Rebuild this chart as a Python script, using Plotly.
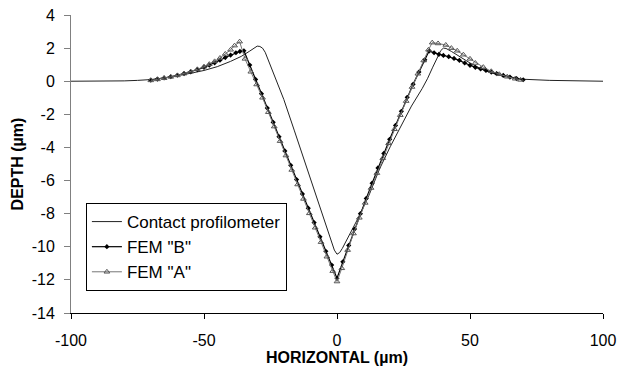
import plotly.graph_objects as go

# Contact profilometer
contact_x = [-100, -90, -80, -75, -70, -65, -60, -55, -50, -45, -40, -36, -33, -31, -30, -29, -28, -27, -26, -25, -24,
             -22, -20, -16, -12, -8, -5, -3, -2, -1, 0, 1, 2, 4, 6, 8, 12, 16, 20, 24, 28, 32, 34, 36, 38, 39, 40, 41,
             43, 46, 50, 55, 60, 65, 70, 80, 90, 100]
contact_y = [0.0, 0.0, 0.02, 0.05, 0.1, 0.2, 0.33, 0.48, 0.65, 0.88, 1.2, 1.5, 1.8, 2.02, 2.12, 2.1, 2.0, 1.75, 1.35, 0.95, 0.55,
             -0.25, -1.1, -3.0, -4.95, -6.9, -8.35, -9.3, -9.75, -10.2, -10.45, -10.35, -10.1, -9.5, -8.9, -8.25, -6.9, -5.3, -3.96, -2.7, -1.5, -0.45, 0.15, 0.85, 1.55, 1.85, 2.0, 1.98,
             1.8, 1.5, 1.1, 0.68, 0.4, 0.22, 0.12, 0.05, 0.02, 0.0]

# FEM "B"
fem_b_x = [-70, -67.5, -65, -62.5, -60, -57.5, -55, -52.5, -50, -48, -46, -44, -42, -40, -38, -36.5, -35,
           -32.8, -30.6, -28.4, -26.2, -24, -21.8, -19.6, -17.4, -15.2, -13, -10.8, -8.6, -6.4, -4.2, -2, 0,
           2.2, 4.4, 6.6, 8.8, 11, 13.2, 15.4, 17.6, 19.8, 22, 24.2, 26.4, 28.6, 30.8, 33, 34.6,
           36.5, 38.3, 40, 42, 44, 46, 48, 50, 52, 54, 56, 58, 60, 62.5, 65, 67.5, 70]
fem_b_y = [0.07, 0.13, 0.2, 0.27, 0.36, 0.46, 0.57, 0.7, 0.84, 0.97, 1.11, 1.27, 1.43, 1.58, 1.72, 1.8, 1.84,
           0.98, 0.11, -0.75, -1.62, -2.48, -3.35, -4.21, -5.08, -5.94, -6.81, -7.67, -8.54, -9.4, -10.27, -11.1, -11.9,
           -10.91, -9.92, -8.93, -8.0, -7.08, -6.16, -5.24, -4.36, -3.51, -2.67, -1.82, -0.97, -0.19, 0.55, 1.29, 1.82,
           1.72, 1.62, 1.56, 1.48, 1.38, 1.26, 1.1, 0.96, 0.84, 0.74, 0.65, 0.55, 0.46, 0.35, 0.25, 0.16, 0.09]

# FEM "A"
fem_a_x = [-70, -67.5, -65, -62.5, -60, -57.5, -55, -52.5, -50, -48, -46, -44, -42, -40, -38.5, -36.6,
           -34.6, -32.4, -30.2, -28, -25.8, -23.6, -21.4, -19.2, -17, -14.8, -12.6, -10.4, -8.2, -6, -3.8, -1.6, 0,
           1.8, 4, 6.2, 8.4, 10.6, 12.8, 15, 17.2, 19.4, 21.6, 23.8, 26, 28.2, 30.4, 32.6, 34.4, 35.8,
           38, 40.9, 43, 45.2, 47.5, 50, 52, 55, 58, 61, 64, 67, 69]
fem_a_y = [0.05, 0.11, 0.18, 0.26, 0.35, 0.46, 0.58, 0.72, 0.88, 1.03, 1.2, 1.4, 1.65, 1.9, 2.15, 2.39,
           1.35, 0.57, -0.2, -1.0, -1.87, -2.74, -3.62, -4.49, -5.36, -6.24, -7.11, -7.98, -8.85, -9.72, -10.6, -11.47, -12.1,
           -11.3, -10.2, -9.2, -8.25, -7.35, -6.45, -5.55, -4.65, -3.75, -2.9, -2.05, -1.2, -0.35, 0.45, 1.25, 1.9, 2.33,
           2.28, 2.19, 2.0, 1.84, 1.6, 1.35, 1.1, 0.85, 0.6, 0.42, 0.27, 0.15, 0.08]

x_ticks = [-100, -50, 0, 50, 100]
x_tick_labels = ["-100", "-50", "0", "50", "100"]
y_ticks = [-14, -12, -10, -8, -6, -4, -2, 0, 2, 4]
y_tick_labels = ["-14", "-12", "-10", "-8", "-6", "-4", "-2", "0", "2", "4"]

FONT = "Arial, Liberation Sans, sans-serif"

fig = go.Figure()
fig.add_trace(go.Scatter(x=contact_x, y=contact_y, mode="lines", name="Contact profilometer",
                         line=dict(color="#222222", width=1)))
fig.add_trace(go.Scatter(x=fem_b_x, y=fem_b_y, mode="lines+markers", name='FEM "B"',
                         line=dict(color="#000000", width=1.2),
                         marker=dict(symbol="diamond", size=4, color="#000000")))
fig.add_trace(go.Scatter(x=fem_a_x, y=fem_a_y, mode="lines+markers", name='FEM "A"',
                         line=dict(color="#777777", width=1),
                         marker=dict(symbol="triangle-up-open", size=5, color="#555555",
                                     line=dict(width=1, color="#555555"))))

fig.update_layout(
    width=630, height=366,
    margin=dict(l=71, r=27, t=15, b=53),
    paper_bgcolor="white", plot_bgcolor="white",
    font=dict(family=FONT, size=16, color="black"),
    showlegend=True,
    legend=dict(x=0.028, y=0.369, xanchor="left", yanchor="top",
                bgcolor="white", bordercolor="black", borderwidth=1,
                font=dict(family=FONT, size=17, color="black"),
                itemwidth=30, tracegroupgap=0, traceorder="normal"),
    xaxis=dict(range=[-100, 100], tickvals=x_ticks, ticktext=x_tick_labels, ticks="outside", ticklen=5,
               tickcolor="black", showline=True, linecolor="black", linewidth=1,
               showgrid=False, zeroline=False, ticklabelstandoff=8, automargin=False,
               tickfont=dict(family=FONT, size=16),
               title=dict(text="<b>HORIZONTAL (µm)</b>", font=dict(family=FONT, size=16), standoff=0)),
    yaxis=dict(range=[-14, 4], tickvals=y_ticks, ticktext=y_tick_labels, ticks="outside", ticklen=6,
               tickcolor="#808080", showline=True, linecolor="#808080", linewidth=1,
               showgrid=False, zeroline=False, ticklabelstandoff=6, automargin=False,
               tickfont=dict(family=FONT, size=16),
               title=dict(text="<b>DEPTH (µm)</b>", font=dict(family=FONT, size=16), standoff=4)),
)

fig.write_html("out.html")
